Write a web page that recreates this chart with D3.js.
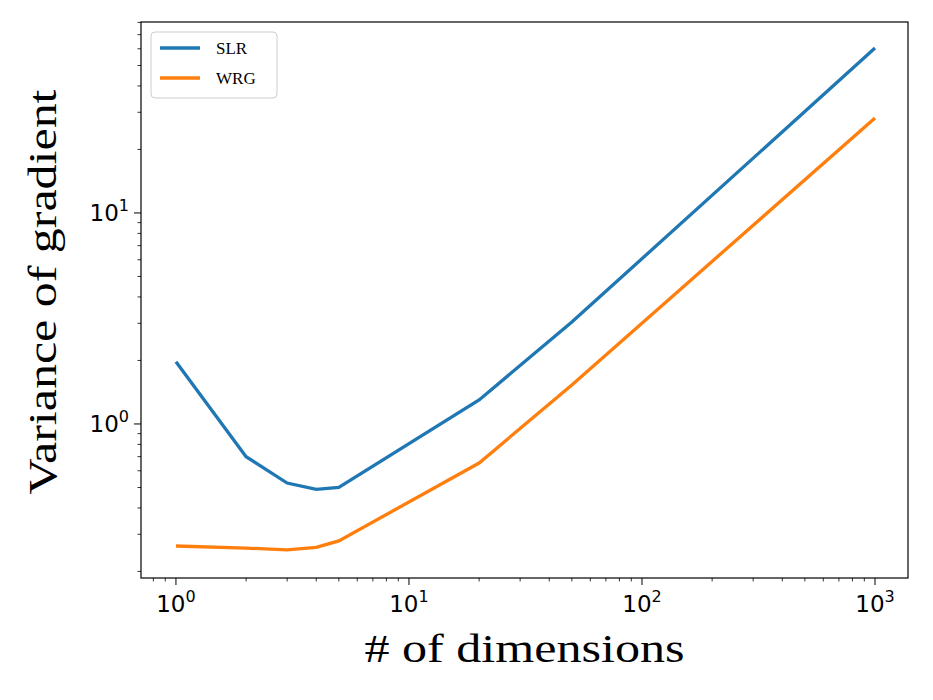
<!DOCTYPE html>
<html><head><meta charset="utf-8">
<script src="https://cdn.jsdelivr.net/npm/d3@7"></script>
<style>body{margin:0;background:#fff}</style></head>
<body><svg id="c" width="933" height="700"></svg>
<script>
const dims = [1,2,3,4,5,20,50,1000];
const slr = [1.97,0.70,0.525,0.49,0.50,1.30,3.04,60.5];
const wrg = [0.264,0.258,0.253,0.26,0.279,0.653,1.53,28.2];
const seriesNames = ["SLR","WRG"];
const colors = ["#1f77b4","#ff7f0e"];
const xTicks = [1,10,100,1000], xTickLabels=["0","1","2","3"];
const yTicks = [1,10], yTickLabels=["0","1"];

const L=141,R=908,T=22,B=578;
const svg=d3.select("#c");
const x=d3.scaleLog().domain([Math.pow(10,-0.15),Math.pow(10,3.1416)]).range([L,R]);
const y=d3.scaleLog().domain([Math.pow(10,-0.73),Math.pow(10,1.905)]).range([B,T]);

function minors(dom){const out=[];for(let e=-2;e<5;e++)for(let m=2;m<10;m++){const v=m*Math.pow(10,e);if(v>=dom[0]&&v<=dom[1])out.push(v);}return out;}
const gx=svg.append("g").attr("transform",`translate(0,${B})`);
minors(x.domain()).forEach(v=>gx.append("line").attr("x1",x(v)).attr("x2",x(v)).attr("y1",0).attr("y2",3.5).attr("stroke","#000").attr("stroke-width",0.8));
xTicks.forEach((v,i)=>{gx.append("line").attr("x1",x(v)).attr("x2",x(v)).attr("y1",0).attr("y2",7).attr("stroke","#000").attr("stroke-width",1);
 const t=gx.append("text").attr("x",x(v)).attr("y",34).attr("text-anchor","middle").attr("font-family","DejaVu Sans").attr("font-size",23);
 t.append("tspan").text("10");t.append("tspan").attr("dy",-10).attr("font-size",16).text(xTickLabels[i]);});
const gy=svg.append("g").attr("transform",`translate(${L},0)`);
minors(y.domain()).forEach(v=>gy.append("line").attr("y1",y(v)).attr("y2",y(v)).attr("x1",0).attr("x2",-3.5).attr("stroke","#000").attr("stroke-width",0.8));
yTicks.forEach((v,i)=>{gy.append("line").attr("y1",y(v)).attr("y2",y(v)).attr("x1",0).attr("x2",-7).attr("stroke","#000").attr("stroke-width",1);
 const t=gy.append("text").attr("x",-12).attr("y",y(v)+8).attr("text-anchor","end").attr("font-family","DejaVu Sans").attr("font-size",23);
 t.append("tspan").text("10");t.append("tspan").attr("dy",-10).attr("font-size",16).text(yTickLabels[i]);});

const line=d3.line().x(d=>x(d[0])).y(d=>y(d[1]));
[slr,wrg].forEach((s,i)=>svg.append("path").attr("d",line(dims.map((d,j)=>[d,s[j]]))).attr("fill","none").attr("stroke",colors[i]).attr("stroke-width",3.3));
svg.append("rect").attr("x",L).attr("y",T).attr("width",R-L).attr("height",B-T).attr("fill","none").attr("stroke","#000").attr("stroke-width",1.2);

const lg=svg.append("g");
lg.append("rect").attr("x",151).attr("y",32).attr("width",126).attr("height",66).attr("rx",4).attr("fill","#fff").attr("stroke","#ccc");
seriesNames.forEach((n,i)=>{const yy=48+i*30;
 lg.append("line").attr("x1",160).attr("x2",200).attr("y1",yy).attr("y2",yy).attr("stroke",colors[i]).attr("stroke-width",3.3);
 lg.append("text").attr("x",216).attr("y",yy+6).attr("font-family","Liberation Serif").attr("font-size",17).text(n);});

svg.append("text").attr("x",(L+R)/2).attr("y",662).attr("text-anchor","middle").attr("font-family","Liberation Serif").attr("font-size",40).attr("textLength",320).attr("lengthAdjust","spacingAndGlyphs").text("# of dimensions");
svg.append("text").attr("transform",`translate(56,${(T+B)/2-8}) rotate(-90)`).attr("text-anchor","middle").attr("font-family","Liberation Serif").attr("font-size",40).attr("textLength",405).attr("lengthAdjust","spacingAndGlyphs").text("Variance of gradient");
</script></body></html>
